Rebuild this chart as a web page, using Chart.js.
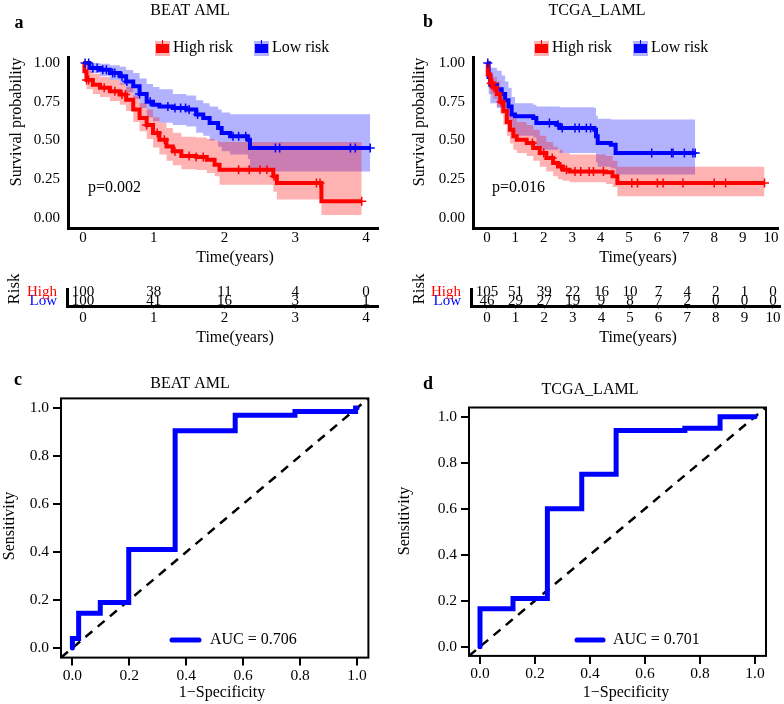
<!DOCTYPE html>
<html><head><meta charset="utf-8">
<script src="https://cdn.jsdelivr.net/npm/chart.js@4.4.1/dist/chart.umd.min.js"></script>
<style>
body{margin:0;background:#fff;width:784px;height:704px;position:relative;overflow:hidden}
canvas{position:absolute}
</style></head>
<body>
<canvas id="sa" width="392" height="270" style="left:0;top:0"></canvas>
<canvas id="sb" width="392" height="270" style="left:392px;top:0"></canvas>
<canvas id="ra" width="392" height="80" style="left:0;top:270px"></canvas>
<canvas id="rb" width="392" height="80" style="left:392px;top:270px"></canvas>
<canvas id="rc" width="392" height="349" style="left:0;top:355px"></canvas>
<canvas id="rd" width="392" height="349" style="left:392px;top:355px"></canvas>
<script>
// ---------------- DATA ----------------
const groups = ['High risk', 'Low risk'];
const survYTicks = [0, 0.25, 0.5, 0.75, 1];
const timeTicksA = [0, 1, 2, 3, 4];
const timeTicksB = [0, 1, 2, 3, 4, 5, 6, 7, 8, 9, 10];
const rocTicks = [0, 0.2, 0.4, 0.6, 0.8, 1];

// BEAT AML survival (panel a)
const timeHighA  = [0, 0.02, 0.05, 0.14, 0.24, 0.38, 0.52, 0.61, 0.71, 0.80, 0.90, 0.99, 1.08, 1.18, 1.27, 1.39, 1.60, 1.75, 1.86, 1.93, 2.69, 2.74, 3.37, 3.94];
const survHighA  = [1.0, 0.946, 0.89, 0.86, 0.84, 0.817, 0.796, 0.763, 0.70, 0.645, 0.60, 0.548, 0.505, 0.462, 0.43, 0.40, 0.394, 0.376, 0.344, 0.312, 0.269, 0.226, 0.108, 0.108];
const upperHighA = [1.0, 0.99, 0.95, 0.93, 0.91, 0.89, 0.87, 0.845, 0.79, 0.74, 0.70, 0.65, 0.615, 0.58, 0.55, 0.525, 0.52, 0.51, 0.50, 0.49, 0.49, 0.49, 0.49, 0.49];
const lowerHighA = [1.0, 0.90, 0.83, 0.80, 0.78, 0.755, 0.73, 0.69, 0.62, 0.56, 0.51, 0.455, 0.41, 0.37, 0.34, 0.315, 0.31, 0.29, 0.27, 0.215, 0.17, 0.12, 0.02, 0.02];
const censorHighA = [0.05, 0.08, 0.3, 0.45, 0.55, 0.6, 0.9, 1.05, 1.15, 1.3, 1.5, 1.6, 1.7, 2.2, 2.35, 2.5, 2.6, 2.7, 3.3, 3.35, 3.94];

const timeLowA  = [0, 0.09, 0.24, 0.38, 0.52, 0.61, 0.71, 0.80, 0.90, 0.99, 1.08, 1.27, 1.46, 1.60, 1.70, 1.79, 1.91, 1.96, 2.08, 2.33, 2.36, 4.06];
const survLowA  = [1.0, 0.968, 0.957, 0.935, 0.914, 0.88, 0.85, 0.80, 0.75, 0.73, 0.72, 0.71, 0.70, 0.667, 0.645, 0.613, 0.58, 0.548, 0.527, 0.505, 0.452, 0.452];
const upperLowA = [1.0, 1.0, 0.995, 0.985, 0.975, 0.955, 0.935, 0.90, 0.865, 0.845, 0.83, 0.80, 0.79, 0.76, 0.74, 0.72, 0.70, 0.68, 0.67, 0.67, 0.67, 0.67];
const lowerLowA = [1.0, 0.935, 0.915, 0.89, 0.86, 0.81, 0.77, 0.71, 0.65, 0.625, 0.615, 0.60, 0.59, 0.55, 0.53, 0.50, 0.46, 0.43, 0.41, 0.38, 0.30, 0.30];
const censorLowA = [0.03, 0.08, 0.14, 0.2, 0.28, 0.33, 0.42, 0.45, 0.55, 0.62, 0.8, 0.95, 1.2, 1.3, 1.38, 1.45, 1.5, 1.62, 2.12, 2.2, 2.3, 2.72, 2.78, 3.78, 3.85, 4.06];

// TCGA_LAML survival (panel b)
const timeHighB  = [0, 0.03, 0.12, 0.23, 0.35, 0.47, 0.58, 0.70, 0.81, 0.93, 1.05, 1.40, 1.63, 1.86, 2.09, 2.33, 2.50, 2.67, 2.91, 4.19, 4.42, 4.59, 9.77];
const survHighB  = [1.0, 0.925, 0.87, 0.84, 0.80, 0.75, 0.69, 0.62, 0.57, 0.527, 0.505, 0.484, 0.452, 0.42, 0.387, 0.355, 0.333, 0.312, 0.30, 0.295, 0.269, 0.226, 0.226];
const upperHighB = [1.0, 1.0, 0.93, 0.91, 0.88, 0.84, 0.79, 0.73, 0.68, 0.64, 0.62, 0.60, 0.57, 0.53, 0.49, 0.46, 0.44, 0.42, 0.41, 0.40, 0.37, 0.33, 0.33];
const lowerHighB = [1.0, 0.85, 0.80, 0.77, 0.72, 0.67, 0.60, 0.53, 0.48, 0.44, 0.42, 0.40, 0.37, 0.33, 0.30, 0.27, 0.25, 0.24, 0.23, 0.22, 0.20, 0.14, 0.14];
const censorHighB = [0.15, 0.2, 0.25, 0.5, 1.6, 2.0, 2.3, 2.6, 2.8, 3.1, 3.3, 3.6, 3.75, 4.1, 5.1, 5.3, 6.0, 6.2, 6.9, 8.0, 8.4, 9.77];

const timeLowB  = [0, 0.06, 0.12, 0.35, 0.52, 0.64, 0.76, 0.87, 0.99, 1.63, 1.74, 2.44, 2.56, 3.78, 3.84, 3.90, 4.36, 4.53, 7.33];
const survLowB  = [1.0, 0.91, 0.86, 0.83, 0.80, 0.76, 0.72, 0.667, 0.656, 0.645, 0.613, 0.602, 0.58, 0.57, 0.527, 0.484, 0.473, 0.42, 0.42];
const upperLowB = [1.0, 1.0, 0.97, 0.95, 0.92, 0.88, 0.84, 0.78, 0.74, 0.73, 0.72, 0.72, 0.715, 0.71, 0.66, 0.64, 0.635, 0.635, 0.635];
const lowerLowB = [1.0, 0.80, 0.74, 0.71, 0.68, 0.63, 0.59, 0.54, 0.53, 0.52, 0.44, 0.44, 0.42, 0.42, 0.36, 0.33, 0.32, 0.28, 0.28];
const censorLowB = [0.03, 2.2, 2.5, 2.65, 3.1, 3.25, 3.5, 3.65, 5.8, 6.5, 6.55, 6.95, 7.25, 7.33];

// Numbers at risk
const riskRows = ['High', 'Low'];
const riskHighA = [100, 38, 11, 4, 0];
const riskLowA  = [100, 41, 16, 3, 1];
const riskHighB = [105, 51, 39, 22, 16, 10, 7, 4, 2, 1, 0];
const riskLowB  = [46, 29, 27, 19, 9, 8, 7, 2, 0, 0, 0];

// ROC curves
const fprC = [0, 0, 0.022, 0.022, 0.098, 0.098, 0.198, 0.198, 0.361, 0.361, 0.572, 0.572, 0.782, 0.782, 0.995, 0.995, 1];
const tprC = [0, 0.04, 0.04, 0.145, 0.145, 0.19, 0.19, 0.41, 0.41, 0.905, 0.905, 0.97, 0.97, 0.985, 0.985, 1, 1];
const fprD = [0, 0, 0.12, 0.12, 0.245, 0.245, 0.37, 0.37, 0.495, 0.495, 0.745, 0.745, 0.873, 0.873, 1];
const tprD = [0, 0.165, 0.165, 0.21, 0.21, 0.6, 0.6, 0.75, 0.75, 0.94, 0.94, 0.95, 0.95, 1, 1];
const aucC = 'AUC = 0.706';
const aucD = 'AUC = 0.701';
const pA = 'p=0.002';
const pB = 'p=0.016';

// ---------------- HELPERS ----------------
const FONT = "'Liberation Serif', 'Times New Roman', serif";
Chart.defaults.font.family = FONT;
Chart.defaults.color = '#000';
const RED = '#FF0000', BLUE = '#0000FF';
const RED_FILL = 'rgba(255,0,0,0.3)', BLUE_FILL = 'rgba(0,0,255,0.3)';

const pts = (xs, ys) => xs.map((x, i) => ({x, y: ys[i]}));
function stepAt(ts, ss, t) { let v = ss[0]; for (let i = 0; i < ts.length; i++) if (ts[i] <= t) v = ss[i]; return v; }
const fixTicks = arr => s => { s.ticks = arr.map(v => ({value: v})); };

function drawText(ctx, it) {
  ctx.save();
  ctx.font = (it.bold ? 'bold ' : '') + it.size + 'px ' + FONT;
  ctx.fillStyle = it.color || '#000';
  ctx.textAlign = it.align || 'center';
  ctx.textBaseline = 'middle';
  ctx.translate(it.x, it.y);
  if (it.rot) ctx.rotate(it.rot);
  ctx.fillText(it.text, 0, 0);
  ctx.restore();
}
function textPlugin(left, top, items, extra) {
  return { id: 'annot', afterDraw(chart) {
    const ctx = chart.ctx; ctx.save(); ctx.translate(-left, -top);
    items.forEach(it => drawText(ctx, it));
    if (extra) extra(chart, ctx);
    ctx.restore();
  }};
}
const baseOpts = { responsive: false, animation: false, devicePixelRatio: 1,
  plugins: { legend: { display: false }, tooltip: { enabled: false }, title: { display: false } } };

// ---------------- SURVIVAL ----------------
function makeSurv(id, left, top, d) {
  const band = (t, v, col) => ({ label: 'band', data: pts(t, v), stepped: true, borderWidth: 0, pointRadius: 0, fill: '+1', backgroundColor: col, order: 3 });
  const edge = (t, v) => ({ label: 'edge', data: pts(t, v), stepped: true, borderWidth: 0, pointRadius: 0, fill: false, order: 3 });
  const curve = (lab, t, v, col) => ({ label: lab, data: pts(t, v), stepped: true, borderColor: col, backgroundColor: col, borderWidth: 4, pointRadius: 0, fill: false, order: 1 });
  const cens = (c, t, v, col) => ({ label: 'censor', data: c.map(x => ({x, y: stepAt(t, v, x)})), showLine: false, pointStyle: 'cross', pointRadius: 4.5, borderColor: col, borderWidth: 1.5, order: 0 });
  const legendDraw = (chart, ctx) => {
    d.legend.forEach((L, i) => {
      const col = i === 0 ? RED : BLUE, fcol = i === 0 ? 'rgba(255,0,0,0.3)' : 'rgba(0,0,255,0.3)';
      ctx.fillStyle = fcol; ctx.fillRect(L.kx - 1, 41, 15, 15);
      ctx.fillStyle = col; ctx.fillRect(L.kx, 44, 13, 9);
      ctx.strokeStyle = col; ctx.lineWidth = 1; ctx.beginPath(); ctx.moveTo(L.kx + 6.5, 40); ctx.lineTo(L.kx + 6.5, 46); ctx.stroke();
      drawText(ctx, { text: groups[i], x: L.tx, y: 48, size: 16, align: 'left' });
    });
  };
  return new Chart(document.getElementById(id), {
    type: 'line',
    data: { datasets: [
      band(d.tH, d.uH, RED_FILL), edge(d.tH, d.lH),
      band(d.tL, d.uL, BLUE_FILL), edge(d.tL, d.lL),
      curve(groups[0], d.tH, d.sH, RED), curve(groups[1], d.tL, d.sL, BLUE),
      cens(d.cH, d.tH, d.sH, RED), cens(d.cL, d.tL, d.sL, BLUE)
    ]},
    options: Object.assign({}, baseOpts, {
      layout: { padding: { left: 0, right: d.pr, top: 57, bottom: 0 } },
      scales: {
        x: { type: 'linear', min: d.xmin, max: d.xmax, afterBuildTicks: fixTicks(d.xt), afterFit: s => { s.height = 42; },
             grid: { display: false, drawTicks: false }, border: { display: true, color: '#000', width: 3 },
             ticks: { autoSkip: false, maxRotation: 0, font: { size: 15 }, color: '#000', padding: 1, callback: v => String(v) } },
        y: { type: 'linear', min: -0.0645, max: 1.0387, afterBuildTicks: fixTicks(survYTicks), afterFit: s => { s.width = d.yw; },
             grid: { display: false, drawTicks: false }, border: { display: true, color: '#000', width: 3 },
             ticks: { autoSkip: false, font: { size: 15 }, color: '#000', padding: 8, callback: v => v.toFixed(2) } }
      }
    }),
    plugins: [textPlugin(left, top, d.texts, legendDraw)]
  });
}

makeSurv('sa', 0, 0, {
  tH: timeHighA, sH: survHighA, uH: upperHighA, lH: lowerHighA, cH: censorHighA,
  tL: timeLowA, sL: survLowA, uL: upperLowA, lL: lowerLowA, cL: censorLowA,
  xmin: -0.212, xmax: 4.17, xt: timeTicksA, yw: 68, pr: 14,
  legend: [{kx: 156, tx: 173}, {kx: 255, tx: 272}],
  texts: [
    {text: 'a', x: 19, y: 23, size: 18, bold: true},
    {text: 'BEAT AML', x: 190, y: 11, size: 16},
    {text: 'Survival probability', x: 17, y: 122, size: 16, rot: -Math.PI / 2},
    {text: pA, x: 88, y: 188, size: 16, align: 'left'},
    {text: 'Time(years)', x: 235, y: 258, size: 16}
  ]
});
makeSurv('sb', 392, 0, {
  tH: timeHighB, sH: survHighB, uH: upperHighB, lH: lowerHighB, cH: censorHighB,
  tL: timeLowB, sL: survLowB, uL: upperLowB, lL: lowerLowB, cL: censorLowB,
  xmin: -0.49, xmax: 10.245, xt: timeTicksB, yw: 81, pr: 4,
  legend: [{kx: 535, tx: 552}, {kx: 634, tx: 651}],
  texts: [
    {text: 'b', x: 428, y: 22, size: 18, bold: true},
    {text: 'TCGA_LAML', x: 597, y: 11, size: 16},
    {text: 'Survival probability', x: 420, y: 122, size: 16, rot: -Math.PI / 2},
    {text: pB, x: 492, y: 188, size: 16, align: 'left'},
    {text: 'Time(years)', x: 638, y: 258, size: 16}
  ]
});

// ---------------- RISK TABLES ----------------
function makeRisk(id, left, top, d) {
  const numbers = { id: 'riskNums', afterDatasetsDraw(chart) {
    const ctx = chart.ctx; ctx.save();
    ctx.font = '15px ' + FONT; ctx.fillStyle = '#000'; ctx.textAlign = 'center'; ctx.textBaseline = 'middle';
    [d.high, d.low].forEach((row, r) => {
      chart.getDatasetMeta(r).data.forEach((el, i) => ctx.fillText(String(row[i]), el.x, el.y));
    });
    ctx.restore();
  }};
  return new Chart(document.getElementById(id), {
    type: 'line',
    data: { datasets: [
      { label: riskRows[0], data: d.times.map(t => ({x: t, y: 1})), showLine: false, pointRadius: 0 },
      { label: riskRows[1], data: d.times.map(t => ({x: t, y: 0})), showLine: false, pointRadius: 0 }
    ]},
    options: Object.assign({}, baseOpts, {
      layout: { padding: { left: 0, right: d.pr, top: 10, bottom: 0 } },
      scales: {
        x: { type: 'linear', min: d.xmin, max: d.xmax, afterBuildTicks: fixTicks(d.times), afterFit: s => { s.height = 44; },
             grid: { display: true, drawOnChartArea: false, drawTicks: true, tickLength: 3, color: '#999', lineWidth: 1 },
             border: { display: true, color: '#000', width: 3 },
             ticks: { autoSkip: false, maxRotation: 0, font: { size: 15 }, color: '#000', padding: 0, callback: v => String(v) } },
        y: { type: 'linear', min: -0.615, max: 1.385, afterBuildTicks: fixTicks([0, 1]), afterFit: s => { s.width = d.yw; },
             grid: { display: false, drawTicks: false }, border: { display: true, color: '#000', width: 3 },
             ticks: { autoSkip: false, font: { size: 15 }, padding: 10, callback: v => v === 1 ? riskRows[0] : riskRows[1],
                      color: c => c.tick && c.tick.value === 1 ? RED : BLUE } }
      }
    }),
    plugins: [numbers, textPlugin(left, top, d.texts)]
  });
}
makeRisk('ra', 0, 270, { times: timeTicksA, high: riskHighA, low: riskLowA, xmin: -0.226, xmax: 4.17, yw: 67, pr: 14,
  texts: [ {text: 'Risk', x: 15, y: 289, size: 17, rot: -Math.PI / 2}, {text: 'Time(years)', x: 235, y: 338, size: 16} ] });
makeRisk('rb', 392, 270, { times: timeTicksB, high: riskHighB, low: riskLowB, xmin: -0.559, xmax: 10.245, yw: 79, pr: 4,
  texts: [ {text: 'Risk', x: 420, y: 289, size: 17, rot: -Math.PI / 2}, {text: 'Time(years)', x: 638, y: 338, size: 16} ] });

// ---------------- ROC ----------------
function makeRoc(id, left, top, d) {
  const frame = { id: 'frame', afterDraw(chart) {
    const a = chart.chartArea, ctx = chart.ctx; ctx.save();
    ctx.strokeStyle = '#000'; ctx.lineWidth = 2; ctx.strokeRect(a.left, a.top, a.right - a.left, a.bottom - a.top);
    ctx.restore();
  }};
  const legendDraw = (chart, ctx) => {
    ctx.save(); ctx.strokeStyle = BLUE; ctx.lineWidth = 5; ctx.lineCap = 'round';
    ctx.beginPath(); ctx.moveTo(d.lx0, 640); ctx.lineTo(d.lx1, 640); ctx.stroke(); ctx.restore();
    drawText(ctx, { text: d.auc, x: d.tx, y: 640, size: 16, align: 'left' });
  };
  return new Chart(document.getElementById(id), {
    type: 'line',
    data: { datasets: [
      { label: 'reference', data: [{x: -0.04, y: -0.04}, {x: 1.04, y: 1.04}], borderColor: '#000', borderWidth: 2.5, borderDash: [9, 7], pointRadius: 0, fill: false, order: 2 },
      { label: d.auc, data: pts(d.fpr, d.tpr), borderColor: BLUE, borderWidth: 5, pointRadius: 0, fill: false, borderCapStyle: 'round', order: 1 }
    ]},
    options: Object.assign({}, baseOpts, {
      layout: { padding: { left: 0, right: d.pr, top: d.pt, bottom: 0 } },
      scales: {
        x: { type: 'linear', min: -0.04, max: 1.04, afterBuildTicks: fixTicks(rocTicks), afterFit: s => { s.height = d.xh; },
             grid: { display: true, drawOnChartArea: false, drawTicks: true, tickLength: 8, color: '#000', lineWidth: 2 },
             border: { display: false },
             ticks: { autoSkip: false, maxRotation: 0, font: { size: 15.5 }, color: '#000', padding: 1, callback: v => v.toFixed(1) } },
        y: { type: 'linear', min: -0.04, max: 1.04, afterBuildTicks: fixTicks(rocTicks), afterFit: s => { s.width = d.yw; },
             grid: { display: true, drawOnChartArea: false, drawTicks: true, tickLength: 8, color: '#000', lineWidth: 2 },
             border: { display: false },
             ticks: { autoSkip: false, font: { size: 15.5 }, color: '#000', padding: 4, callback: v => v.toFixed(1) } }
      }
    }),
    plugins: [frame, textPlugin(left, top, d.texts, legendDraw)]
  });
}
makeRoc('rc', 0, 355, { fpr: fprC, tpr: tprC, auc: aucC, yw: 61, pr: 23.6, pt: 43.4, xh: 46.4, lx0: 172, lx1: 199, tx: 210,
  texts: [
    {text: 'c', x: 18, y: 380, size: 18, bold: true},
    {text: 'BEAT AML', x: 190, y: 384, size: 16},
    {text: 'Sensitivity', x: 10, y: 526, size: 16, rot: -Math.PI / 2},
    {text: '1\u2212Specificity', x: 222, y: 693, size: 16}
  ] });
makeRoc('rd', 392, 355, { fpr: fprD, tpr: tprD, auc: aucD, yw: 77, pr: 18, pt: 52.5, xh: 48.1, lx0: 577, lx1: 603, tx: 613,
  texts: [
    {text: 'd', x: 428, y: 384, size: 18, bold: true},
    {text: 'TCGA_LAML', x: 590, y: 390, size: 16},
    {text: 'Sensitivity', x: 405, y: 521, size: 16, rot: -Math.PI / 2},
    {text: '1\u2212Specificity', x: 626, y: 693, size: 16}
  ] });
</script>
</body></html>
